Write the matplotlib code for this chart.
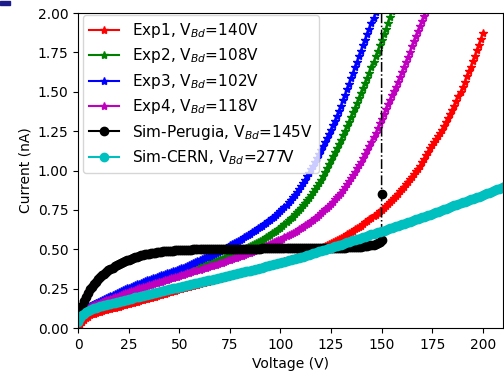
import numpy as np
import matplotlib
matplotlib.use("Agg")
import matplotlib.pyplot as plt
from matplotlib.patches import Rectangle
from matplotlib.lines import Line2D
from matplotlib.ticker import FormatStrFormatter

# Leakage current (nA), one reading per volt starting at 0 V
exp1_current = [
    0.0, 0.022, 0.04, 0.053, 0.065, 0.073, 0.08, 0.086, 0.092, 0.096,
    0.1, 0.104, 0.108, 0.112, 0.115, 0.119, 0.122, 0.126, 0.129, 0.133,
    0.136, 0.14, 0.143, 0.147, 0.15, 0.154, 0.157, 0.161, 0.164, 0.168,
    0.171, 0.175, 0.178, 0.182, 0.186, 0.19, 0.193, 0.197, 0.2, 0.204,
    0.208, 0.212, 0.215, 0.219, 0.223, 0.227, 0.23, 0.234, 0.238, 0.242,
    0.245, 0.249, 0.252, 0.256, 0.259, 0.262, 0.265, 0.269, 0.272, 0.276,
    0.279, 0.283, 0.286, 0.29, 0.293, 0.297, 0.3, 0.303, 0.306, 0.31,
    0.313, 0.317, 0.32, 0.324, 0.327, 0.331, 0.334, 0.338, 0.341, 0.345,
    0.348, 0.351, 0.354, 0.358, 0.361, 0.365, 0.368, 0.372, 0.375, 0.378,
    0.381, 0.385, 0.388, 0.392, 0.395, 0.399, 0.402, 0.405, 0.408, 0.412,
    0.415, 0.419, 0.423, 0.427, 0.431, 0.436, 0.44, 0.445, 0.449, 0.454,
    0.458, 0.463, 0.467, 0.472, 0.477, 0.483, 0.488, 0.494, 0.499, 0.505,
    0.51, 0.516, 0.522, 0.528, 0.534, 0.54, 0.546, 0.552, 0.558, 0.564,
    0.57, 0.578, 0.586, 0.594, 0.602, 0.61, 0.618, 0.626, 0.634, 0.642,
    0.65, 0.66, 0.67, 0.68, 0.69, 0.7, 0.71, 0.72, 0.73, 0.74,
    0.75, 0.763, 0.776, 0.789, 0.802, 0.815, 0.828, 0.841, 0.854, 0.867,
    0.88, 0.896, 0.913, 0.929, 0.945, 0.961, 0.978, 0.994, 1.01, 1.031,
    1.053, 1.075, 1.097, 1.118, 1.14, 1.16, 1.18, 1.2, 1.22, 1.24,
    1.26, 1.285, 1.31, 1.335, 1.36, 1.385, 1.41, 1.44, 1.47, 1.5,
    1.53, 1.565, 1.6, 1.63, 1.66, 1.695, 1.73, 1.765, 1.8, 1.835,
    1.87,
]
exp2_current = [
    0.06, 0.082, 0.1, 0.112, 0.122, 0.13, 0.137, 0.144, 0.15, 0.156,
    0.162, 0.168, 0.173, 0.179, 0.184, 0.19, 0.195, 0.201, 0.206, 0.212,
    0.217, 0.223, 0.228, 0.233, 0.238, 0.243, 0.248, 0.253, 0.258, 0.263,
    0.267, 0.272, 0.276, 0.281, 0.285, 0.29, 0.294, 0.299, 0.303, 0.307,
    0.311, 0.315, 0.319, 0.323, 0.327, 0.331, 0.335, 0.339, 0.343, 0.347,
    0.351, 0.355, 0.359, 0.363, 0.367, 0.371, 0.375, 0.379, 0.383, 0.387,
    0.391, 0.396, 0.4, 0.405, 0.409, 0.414, 0.418, 0.423, 0.427, 0.432,
    0.436, 0.441, 0.446, 0.451, 0.456, 0.461, 0.466, 0.472, 0.477, 0.483,
    0.488, 0.494, 0.5, 0.506, 0.512, 0.519, 0.525, 0.532, 0.539, 0.546,
    0.553, 0.561, 0.568, 0.576, 0.584, 0.593, 0.601, 0.61, 0.619, 0.629,
    0.638, 0.649, 0.66, 0.672, 0.683, 0.696, 0.708, 0.722, 0.735, 0.75,
    0.764, 0.78, 0.795, 0.812, 0.828, 0.846, 0.863, 0.882, 0.9, 0.92,
    0.94, 0.965, 0.99, 1.015, 1.04, 1.065, 1.09, 1.115, 1.14, 1.168,
    1.195, 1.223, 1.25, 1.28, 1.31, 1.34, 1.37, 1.4, 1.43, 1.46,
    1.49, 1.523, 1.555, 1.588, 1.62, 1.655, 1.69, 1.725, 1.76, 1.795,
    1.83, 1.865, 1.9, 1.938, 1.975, 2.013, 2.05,
]
exp3_current = [
    0.06, 0.082, 0.1, 0.113, 0.125, 0.133, 0.14, 0.148, 0.155, 0.162,
    0.168, 0.174, 0.18, 0.186, 0.192, 0.198, 0.204, 0.21, 0.216, 0.222,
    0.228, 0.234, 0.24, 0.246, 0.251, 0.257, 0.262, 0.267, 0.272, 0.277,
    0.282, 0.287, 0.292, 0.297, 0.302, 0.307, 0.311, 0.316, 0.32, 0.325,
    0.329, 0.334, 0.338, 0.343, 0.347, 0.352, 0.356, 0.361, 0.365, 0.37,
    0.374, 0.379, 0.384, 0.39, 0.395, 0.401, 0.406, 0.412, 0.418, 0.424,
    0.43, 0.436, 0.442, 0.448, 0.454, 0.46, 0.466, 0.472, 0.478, 0.484,
    0.49, 0.497, 0.503, 0.51, 0.517, 0.524, 0.531, 0.538, 0.545, 0.553,
    0.56, 0.568, 0.575, 0.583, 0.591, 0.599, 0.607, 0.615, 0.623, 0.632,
    0.64, 0.649, 0.658, 0.668, 0.677, 0.687, 0.697, 0.708, 0.718, 0.729,
    0.74, 0.754, 0.768, 0.783, 0.798, 0.814, 0.83, 0.847, 0.864, 0.882,
    0.9, 0.921, 0.942, 0.963, 0.985, 1.007, 1.03, 1.054, 1.078, 1.103,
    1.128, 1.154, 1.18, 1.206, 1.233, 1.26, 1.288, 1.317, 1.346, 1.378,
    1.41, 1.445, 1.48, 1.515, 1.55, 1.585, 1.62, 1.655, 1.69, 1.725,
    1.76, 1.795, 1.83, 1.865, 1.9, 1.935, 1.97, 2.005, 2.04,
]
exp4_current = [
    0.06, 0.08, 0.098, 0.109, 0.118, 0.125, 0.132, 0.138, 0.144, 0.15,
    0.155, 0.16, 0.165, 0.17, 0.175, 0.18, 0.185, 0.19, 0.195, 0.2,
    0.205, 0.21, 0.215, 0.22, 0.224, 0.229, 0.233, 0.238, 0.242, 0.247,
    0.251, 0.255, 0.259, 0.263, 0.267, 0.271, 0.275, 0.279, 0.283, 0.287,
    0.291, 0.295, 0.299, 0.303, 0.307, 0.311, 0.315, 0.319, 0.323, 0.327,
    0.331, 0.335, 0.339, 0.343, 0.347, 0.351, 0.355, 0.359, 0.363, 0.367,
    0.371, 0.375, 0.379, 0.383, 0.387, 0.391, 0.395, 0.399, 0.403, 0.407,
    0.411, 0.415, 0.42, 0.424, 0.429, 0.433, 0.438, 0.442, 0.447, 0.451,
    0.456, 0.46, 0.465, 0.469, 0.474, 0.479, 0.484, 0.489, 0.494, 0.499,
    0.504, 0.509, 0.515, 0.52, 0.526, 0.532, 0.538, 0.544, 0.55, 0.556,
    0.562, 0.568, 0.575, 0.582, 0.589, 0.596, 0.603, 0.61, 0.618, 0.626,
    0.634, 0.642, 0.651, 0.66, 0.669, 0.678, 0.688, 0.698, 0.708, 0.719,
    0.73, 0.741, 0.753, 0.765, 0.777, 0.79, 0.803, 0.816, 0.83, 0.845,
    0.86, 0.877, 0.895, 0.913, 0.932, 0.951, 0.97, 0.991, 1.013, 1.035,
    1.057, 1.081, 1.105, 1.13, 1.155, 1.182, 1.21, 1.24, 1.27, 1.3,
    1.33, 1.36, 1.39, 1.42, 1.45, 1.478, 1.505, 1.533, 1.56, 1.593,
    1.625, 1.658, 1.69, 1.723, 1.755, 1.788, 1.82, 1.853, 1.885, 1.918,
    1.95, 1.983, 2.015, 2.048, 2.08,
]

# Simulated currents (nA), one point per volt
sim_perugia_current = [
    0.08, 0.11, 0.14, 0.17, 0.2, 0.223, 0.245, 0.263, 0.28, 0.295,
    0.31, 0.323, 0.335, 0.346, 0.357, 0.367, 0.376, 0.384, 0.392, 0.399,
    0.406, 0.413, 0.419, 0.425, 0.43, 0.435, 0.44, 0.445, 0.449, 0.453,
    0.457, 0.461, 0.464, 0.467, 0.47, 0.473, 0.475, 0.477, 0.479, 0.481,
    0.483, 0.485, 0.486, 0.488, 0.489, 0.49, 0.491, 0.492, 0.493, 0.494,
    0.495, 0.496, 0.496, 0.497, 0.497, 0.498, 0.498, 0.499, 0.499, 0.5,
    0.5, 0.5, 0.5, 0.5, 0.501, 0.501, 0.501, 0.501, 0.502, 0.502,
    0.502, 0.502, 0.502, 0.502, 0.502, 0.503, 0.503, 0.503, 0.503, 0.503,
    0.503, 0.503, 0.503, 0.504, 0.504, 0.504, 0.504, 0.504, 0.504, 0.504,
    0.504, 0.505, 0.505, 0.505, 0.505, 0.505, 0.505, 0.505, 0.506, 0.506,
    0.506, 0.506, 0.506, 0.506, 0.506, 0.506, 0.507, 0.507, 0.507, 0.507,
    0.507, 0.507, 0.507, 0.507, 0.508, 0.508, 0.508, 0.508, 0.508, 0.508,
    0.508, 0.509, 0.509, 0.509, 0.509, 0.509, 0.51, 0.51, 0.51, 0.51,
    0.51, 0.511, 0.511, 0.512, 0.512, 0.513, 0.513, 0.514, 0.515, 0.516,
    0.517, 0.518, 0.52, 0.522, 0.524, 0.527, 0.53, 0.535, 0.54, 0.548,
    0.56,
]
# Two points at the 150 V breakdown of the Perugia simulation
perugia_breakdown_v = [150.0, 150.0]
perugia_breakdown_current = [0.85, 2.6]

sim_cern_current = [
    0.04, 0.062, 0.08, 0.091, 0.1, 0.108, 0.115, 0.12, 0.125, 0.13,
    0.134, 0.138, 0.141, 0.145, 0.148, 0.152, 0.155, 0.159, 0.162, 0.165,
    0.168, 0.171, 0.174, 0.178, 0.181, 0.184, 0.187, 0.191, 0.194, 0.197,
    0.2, 0.203, 0.206, 0.209, 0.212, 0.215, 0.218, 0.221, 0.224, 0.227,
    0.23, 0.233, 0.236, 0.239, 0.242, 0.245, 0.248, 0.251, 0.254, 0.257,
    0.26, 0.263, 0.266, 0.269, 0.272, 0.275, 0.278, 0.281, 0.284, 0.287,
    0.29, 0.293, 0.296, 0.299, 0.302, 0.305, 0.308, 0.311, 0.314, 0.317,
    0.32, 0.323, 0.326, 0.329, 0.332, 0.335, 0.338, 0.341, 0.344, 0.347,
    0.35, 0.353, 0.356, 0.359, 0.362, 0.365, 0.368, 0.371, 0.374, 0.377,
    0.38, 0.384, 0.387, 0.391, 0.394, 0.398, 0.401, 0.405, 0.408, 0.412,
    0.415, 0.419, 0.422, 0.426, 0.429, 0.433, 0.436, 0.44, 0.443, 0.447,
    0.45, 0.454, 0.458, 0.462, 0.466, 0.47, 0.474, 0.478, 0.482, 0.486,
    0.49, 0.494, 0.498, 0.502, 0.506, 0.51, 0.514, 0.518, 0.522, 0.526,
    0.53, 0.534, 0.539, 0.543, 0.547, 0.551, 0.556, 0.56, 0.564, 0.568,
    0.573, 0.577, 0.581, 0.585, 0.59, 0.594, 0.598, 0.602, 0.607, 0.611,
    0.615, 0.619, 0.624, 0.628, 0.633, 0.637, 0.641, 0.646, 0.65, 0.654,
    0.659, 0.663, 0.668, 0.672, 0.676, 0.681, 0.685, 0.69, 0.694, 0.698,
    0.703, 0.707, 0.712, 0.716, 0.72, 0.725, 0.73, 0.734, 0.739, 0.744,
    0.749, 0.754, 0.758, 0.763, 0.768, 0.773, 0.778, 0.782, 0.787, 0.792,
    0.797, 0.802, 0.806, 0.811, 0.816, 0.821, 0.826, 0.83, 0.835, 0.84,
    0.845, 0.85, 0.855, 0.86, 0.865, 0.87, 0.875, 0.88, 0.885, 0.89,
    0.895, 0.9, 0.905,
]

labels = [
    "Exp1, V$_{Bd}$=140V",
    "Exp2, V$_{Bd}$=108V",
    "Exp3, V$_{Bd}$=102V",
    "Exp4, V$_{Bd}$=118V",
    "Sim-Perugia, V$_{Bd}$=145V",
    "Sim-CERN, V$_{Bd}$=277V",
]


def sweep(values):
    """Bias voltages of a 1 V step sweep starting at 0 V."""
    return np.arange(len(values), dtype=float)


perugia_v = np.concatenate([sweep(sim_perugia_current), perugia_breakdown_v])
perugia_i = np.concatenate([sim_perugia_current, perugia_breakdown_current])

fig = plt.figure(figsize=(5.04, 3.73), dpi=100)
ax = fig.add_axes([0.155, 0.1206, 0.843, 0.8445])

series = [
    (sweep(exp1_current), exp1_current, "r", "*"),
    (sweep(exp2_current), exp2_current, "g", "*"),
    (sweep(exp3_current), exp3_current, "b", "*"),
    (sweep(exp4_current), exp4_current, "m", "*"),
    (perugia_v, perugia_i, "k", "o"),
    (sweep(sim_cern_current), sim_cern_current, "c", "o"),
]
handles = []
for (v, i, col, mk), lab in zip(series, labels):
    ax.plot(v, i, linestyle="-.", linewidth=1.1, marker=mk, markersize=6,
            color=col)
    handles.append(Line2D([], [], linestyle="-", linewidth=1.5, marker=mk,
                          markersize=6, color=col, label=lab))

ax.set_xlim(0, 210)
ax.set_ylim(0, 2.0)
ax.set_xticks(np.arange(0, 201, 25))
ax.set_yticks(np.arange(0, 2.01, 0.25))
ax.yaxis.set_major_formatter(FormatStrFormatter("%.2f"))
ax.set_xlabel("Voltage (V)")
ax.set_ylabel("Current (nA)")
ax.legend(handles=handles, loc="upper left", fontsize=11,
          bbox_to_anchor=(0.011, 0.994), borderaxespad=0.0,
          labelspacing=0.42)

fig.patches.append(Rectangle((0, 1 - 4.5 / 373), 9.5 / 504, 3.5 / 373,
                             transform=fig.transFigure, color="#1c1c8c",
                             figure=fig))

fig.savefig("out.png", dpi=100)
